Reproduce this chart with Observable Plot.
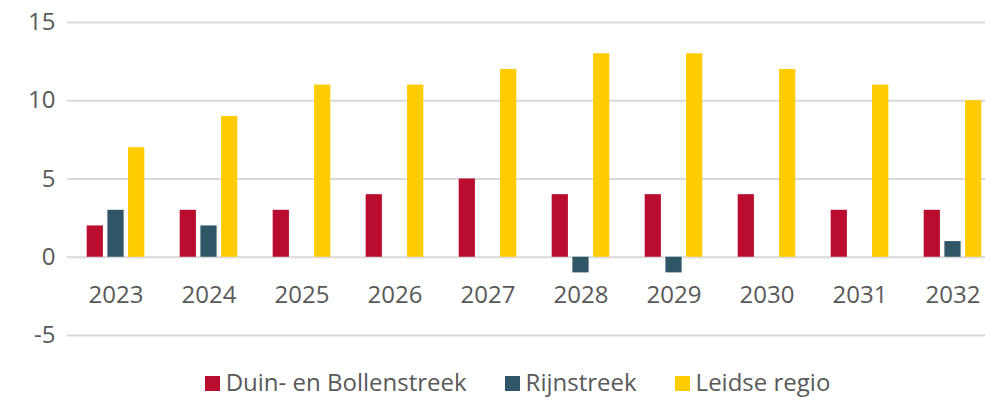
<!DOCTYPE html>
<html>
<head>
<meta charset="utf-8">
<script src="https://cdn.jsdelivr.net/npm/d3@7"></script>
<script src="https://cdn.jsdelivr.net/npm/@observablehq/plot@0.6"></script>
<style>
  html, body { margin: 0; padding: 0; background: #fff; overflow: hidden; }
  body { width: 985px; height: 400px; font-family: "Open Sans", sans-serif; }
  #chart svg { display: block; }
  #legend { display: flex; justify-content: center; align-items: center; height: 28px; font-size: 24px; color: #595959; line-height: 28px; margin-left: 50px; margin-top: -4px; }
  .item { display: flex; align-items: center; margin: 0 19px; }
  .sw { width: 15px; height: 15px; margin-right: 6px; margin-top: 2px; }
</style>
</head>
<body>
<div id="chart"></div>
<div id="legend"></div>
<script>
const years = ["2023","2024","2025","2026","2027","2028","2029","2030","2031","2032"];
const seriesNames = ["Duin- en Bollenstreek", "Rijnstreek", "Leidse regio"];
const duin = [2, 3, 3, 4, 5, 4, 4, 4, 3, 3];
const rijn = [3, 2, 0, 0, 0, -1, -1, 0, 0, 1];
const leidse = [7, 9, 11, 11, 12, 13, 13, 12, 11, 10];
const yTicks = [-5, 0, 5, 10, 15];
const colors = ["#BA0C2F", "#2E5666", "#FFCC00"];

const seriesValues = [duin, rijn, leidse];
const bandW = (1000 - 67.3) / years.length;
const barW = 16.5;
const gap = 20.7;
const inset = (bandW - barW) / 2;

const barMarks = seriesValues.map((vals, i) =>
  Plot.barY(years.map((yr, j) => ({year: yr, value: vals[j]})).filter(d => d.value !== 0), {
    x: "year", y: "value", fill: colors[i],
    insetLeft: inset, insetRight: inset, dx: (i - 1) * gap
  })
);

const chart = Plot.plot({
  width: 985,
  height: 372,
  marginLeft: 67,
  marginRight: 0,
  marginTop: 22,
  marginBottom: 37,
  style: {fontFamily: "'Open Sans', sans-serif", fontSize: "24px", color: "#595959", background: "#fff"},
  x: {domain: years, range: [67.3, 1000], padding: 0, axis: null},
  y: {domain: [-5, 15], range: [335, 22], axis: null},
  marks: [
    Plot.ruleY(yTicks, {stroke: "#d9d9d9", strokeWidth: 2}),
    Plot.axisY({ticks: yTicks, tickSize: 0, tickPadding: 12, fontSize: 24, fill: "#595959", label: null, tickFormat: d => String(d)}),
    ...barMarks,
    Plot.text(years, {x: d => d, y: 0, dy: 38, text: d => d, fontSize: 24, fill: "#595959"})
  ]
});
document.getElementById("chart").appendChild(chart);

const legend = document.getElementById("legend");
seriesNames.forEach((name, i) => {
  const it = document.createElement("div");
  it.className = "item";
  const sw = document.createElement("span");
  sw.className = "sw";
  sw.style.background = colors[i];
  const tx = document.createElement("span");
  tx.textContent = name;
  it.appendChild(sw);
  it.appendChild(tx);
  legend.appendChild(it);
});
</script>
</body>
</html>
